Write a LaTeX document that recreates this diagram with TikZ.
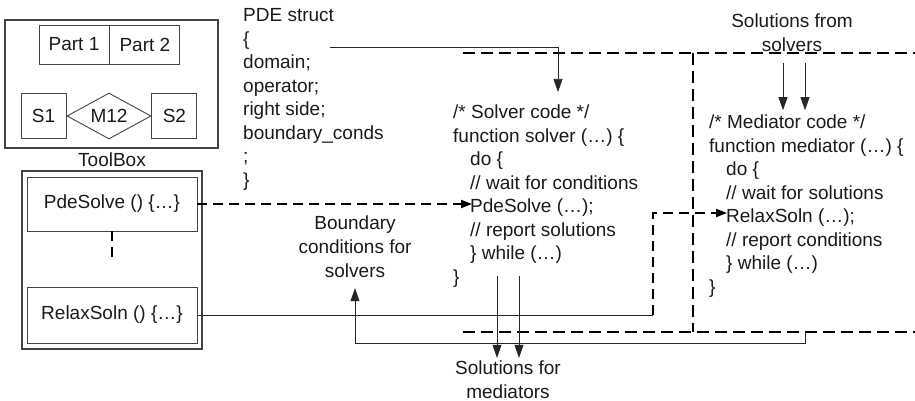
\documentclass[tikz,border=0pt]{standalone}
\usepackage{fontspec}
\setmainfont{Liberation Sans}
\usepackage{tikz}
\usetikzlibrary{arrows.meta, positioning, shapes.geometric}
\definecolor{inkgray}{HTML}{1A1A1A}
\definecolor{edgegray}{HTML}{444444}
\newcommand{\codeindent}{\hspace*{17pt}}

\begin{document}
\begin{tikzpicture}[
    x=1pt, y=-1pt,
    font=\fontsize{19}{23.5}\selectfont,
    text=inkgray,
    box/.style={draw=edgegray, line width=0.9pt, inner sep=0pt},
    codetext/.style={align=left, anchor=north west, inner sep=0pt},
    caption/.style={align=center, inner sep=3pt, font=\fontsize{19}{24}\selectfont},
    wire/.style={line width=0.7pt, draw=black!85},
    flow/.style={wire, -{Triangle[length=13pt, width=9pt]}},
    dashes/.style={line width=2pt, dash pattern=on 10pt off 6pt},
    frame/.style={line width=2.2pt, dash pattern=on 12pt off 6pt},
]
\useasboundingbox (0,0) rectangle (915,401);

% Toolset at the top left
\node[box, line width=1.2pt, minimum width=213pt, minimum height=128pt] (toolset) at (111.5,84) {};
\node[box, minimum width=70pt, minimum height=39pt] (part1) at (74,44.5) {Part 1};
\node[box, minimum width=70pt, minimum height=39pt, right=0pt of part1] (part2) {Part 2};
\node[box, diamond, aspect=2, minimum width=84pt, minimum height=46pt] (m12) at (109,116) {M12};
\node[box, minimum size=45pt, left=0pt of m12] (s1) {S1};
\node[box, minimum size=45pt, right=0pt of m12] (s2) {S2};

% ToolBox
\node[box, line width=1.2pt, minimum width=180pt, minimum height=178pt] (kitbox) at (112,260) {};
\node[above=0pt of kitbox] (kitlabel) {ToolBox};
\node[box, minimum width=170pt, minimum height=54pt] (pde) at (112,204) {PdeSolve () \{…\}};
\node[box, minimum width=170pt, minimum height=56pt] (relax) at (112,315) {RelaxSoln () \{…\}};
\draw[dashes] (pde.south) -- ++(0,27);

% PDE struct
\node[codetext] (pdestruct) at (243,8.6) {PDE struct\\\{\\domain;\\operator;\\right side;\\boundary\_conds\\;\\\}};

% Solver and mediator code
\node[codetext] (solver) at (453,105) {/* Solver code */\\function solver (…) \{\\\codeindent do \{\\\codeindent // wait for conditions\\\codeindent PdeSolve (…);\\\codeindent // report solutions\\\codeindent \} while (…)\\\}};
\node[codetext] (mediator) at (709,115) {/* Mediator code */\\function mediator (…) \{\\\codeindent do \{\\\codeindent // wait for solutions\\\codeindent RelaxSoln (…);\\\codeindent // report conditions\\\codeindent \} while (…)\\\}};

% Labels
\node[caption] (bound) at (355,247) {Boundary\\conditions for\\solvers};
\node[caption] (solmed) at (508,380) {Solutions for\\mediators};
\node[caption] (solsolv) at (792,33) {Solutions from\\solvers};

% Frames round solver and mediator
\draw[frame] (463,53) -- (915,53);
\draw[frame] (463,332) -- (915,332);
\draw[frame] (693,53) -- (693,332);

% Free ends
\coordinate (pdeout) at (330,47);
\coordinate (pdein) at (558,92);
\coordinate (pdecall) at (472,204);
\coordinate (relaxbend) at (653,315);
\coordinate (relaxcall) at (727,213);
\coordinate (medfoot) at (805,332);

% Flows
\draw[flow] (pdeout) -| (pdein);
\draw[dashes, -{Triangle[length=11pt, width=8pt]}] (pde.east) -- (pdecall);
\draw[wire] (relax.east) -- (relaxbend);
\draw[dashes, -{Triangle[length=11pt, width=8pt]}] (relaxbend) |- (relaxcall);
\draw[flow] (medfoot) -- ++(0,11) -| ([yshift=-7pt]bound.south);
\draw[flow] ([xshift=-11pt, yshift=82pt]solmed.north) -- ([xshift=-11pt]solmed.north);
\draw[flow] ([xshift=11pt, yshift=82pt]solmed.north) -- ([xshift=11pt]solmed.north);
\draw[flow] ([xshift=-9pt, yshift=-8pt]solsolv.south) -- ++(0,47);
\draw[flow] ([xshift=13pt, yshift=-8pt]solsolv.south) -- ++(0,47);

\end{tikzpicture}
\end{document}
